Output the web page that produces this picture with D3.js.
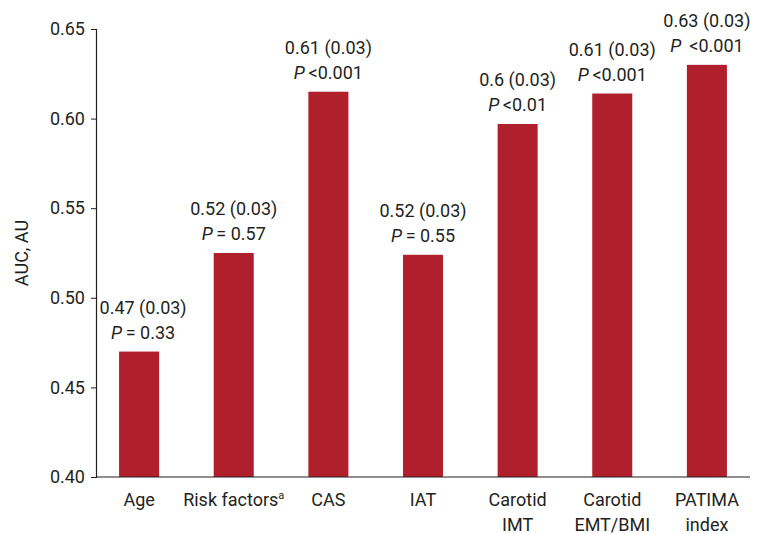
<!DOCTYPE html>
<html>
<head>
<meta charset="utf-8">
<script src="https://cdn.jsdelivr.net/npm/d3@7"></script>
<style>
  body { margin: 0; background: #fff; }
  svg text { font-family: Roboto, "DejaVu Sans", sans-serif; fill: #231f20; font-size: 18px; }
</style>
</head>
<body>
<div id="chart"></div>
<script>
// chart values
const categories = ["Age", "Risk factors", "CAS", "IAT", "Carotid IMT", "Carotid EMT/BMI", "PATIMA index"];
const categoryLines = [["Age"], ["Risk factors"], ["CAS"], ["IAT"], ["Carotid", "IMT"], ["Carotid", "EMT/BMI"], ["PATIMA", "index"]];
const auc = [0.47, 0.525, 0.615, 0.524, 0.597, 0.614, 0.63];
const aucLabels = ["0.47 (0.03)", "0.52 (0.03)", "0.61 (0.03)", "0.52 (0.03)", "0.6 (0.03)", "0.61 (0.03)", "0.63 (0.03)"];
const pLabels = ["= 0.33", "= 0.57", "<0.001", "= 0.55", "<0.01", "<0.001", "\u00a0<0.001"];
const yTicks = [0.40, 0.45, 0.50, 0.55, 0.60, 0.65];

const chart_width = 758, chart_height = 534;
const margin = { left: 96, right: 750, top: 29, bottom: 477 };

const data = categories.map((c, i) => ({
    name: c, lines: categoryLines[i], value: auc[i], label: aucLabels[i], p: pLabels[i]
}));

const svg = d3.select("#chart")
    .append("svg")
    .attr("width", chart_width)
    .attr("height", chart_height);

const x = d3.scaleBand()
    .domain(categories)
    .range([margin.left, margin.right])
    .paddingInner(0.577)
    .paddingOuter(0.244);

const y = d3.scaleLinear()
    .domain([0.40, 0.65])
    .range([margin.bottom, margin.top]);

// bars
svg.append("g")
    .selectAll("rect")
    .data(data)
    .join("rect")
    .attr("x", d => x(d.name))
    .attr("y", d => y(d.value))
    .attr("width", x.bandwidth())
    .attr("height", d => y(0.40) - y(d.value))
    .attr("fill", "#b0202c");

// y axis
const yAxis = svg.append("g")
    .attr("transform", `translate(${margin.left},0)`)
    .call(d3.axisLeft(y).tickValues(yTicks).tickFormat(d3.format(".2f")).tickSize(5).tickPadding(6));
yAxis.attr("font-family", null).attr("font-size", null);
yAxis.select(".domain").attr("stroke", "#231f20").attr("stroke-width", 1.2);
yAxis.selectAll(".tick line").attr("stroke", "#231f20");

// x axis line
svg.append("line")
    .attr("x1", margin.left).attr("x2", margin.right)
    .attr("y1", y(0.40)).attr("y2", y(0.40))
    .attr("stroke", "#231f20")
    .attr("stroke-width", 1.2);

// category labels
const catText = svg.append("g")
    .selectAll("text")
    .data(data)
    .join("text")
    .attr("text-anchor", "middle")
    .attr("x", d => x(d.name) + x.bandwidth() / 2)
    .attr("y", 506);
catText.each(function (d) {
    const t = d3.select(this);
    d.lines.forEach((line, i) => {
        t.append("tspan")
            .attr("x", x(d.name) + x.bandwidth() / 2)
            .attr("dy", i === 0 ? 0 : 25)
            .text(line);
        if (d.name === "Risk factors") {
            t.append("tspan")
                .attr("dy", -7)
                .style("font-size", "11px")
                .text("a");
        }
    });
});

// value labels
const valueG = svg.append("g")
    .selectAll("g")
    .data(data)
    .join("g")
    .attr("transform", d => `translate(${x(d.name) + x.bandwidth() / 2 + (d.name === "Age" ? 4 : 0)},${y(d.value)})`);

valueG.append("text")
    .attr("text-anchor", "middle")
    .attr("y", -38)
    .text(d => d.label);

const pText = valueG.append("text")
    .attr("text-anchor", "middle")
    .attr("y", -13);
pText.append("tspan")
    .style("font-style", "italic")
    .text("P");
pText.append("tspan")
    .text(d => "\u2009" + d.p);

// y axis title
svg.append("text")
    .attr("transform", `translate(28,${(margin.top + margin.bottom) / 2}) rotate(-90)`)
    .attr("text-anchor", "middle")
    .text("AUC, AU");
</script>
</body>
</html>
